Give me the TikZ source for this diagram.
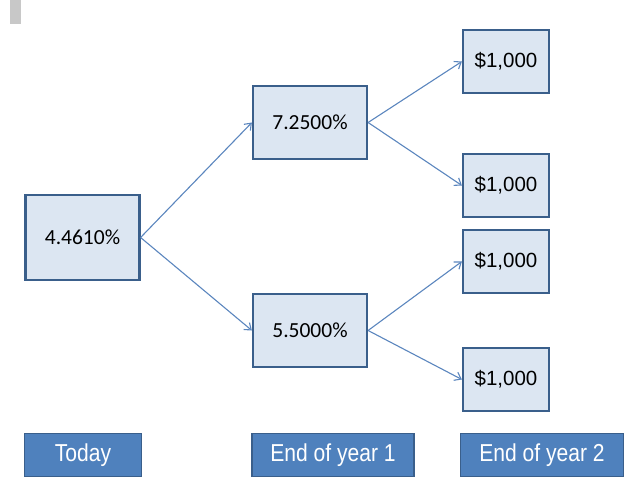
\documentclass[tikz,border=0pt]{standalone}
\usepackage{fontspec}
\setmainfont{Carlito}
\newfontfamily\arialfont{Liberation Sans}
\newfontfamily\narrowfont[FakeStretch=0.86]{Liberation Sans}
\usetikzlibrary{arrows.meta}
\definecolor{boxfill}{HTML}{DCE6F2}
\definecolor{boxline}{HTML}{3A5F8B}
\definecolor{arrowcol}{HTML}{5B86BE}
\definecolor{labfill}{HTML}{4F81BD}
\definecolor{marker}{HTML}{C8C8C8}
\tikzset{
  ratebox/.style={draw=boxline, fill=boxfill, line width=2.2pt, rectangle, inner sep=0pt,
    minimum width=114pt, minimum height=73pt, font=\fontsize{21.5}{24}\selectfont},
  cashbox/.style={draw=boxline, fill=boxfill, line width=2.2pt, rectangle, inner sep=0pt,
    minimum width=86pt, minimum height=63pt, font=\arialfont\fontsize{20.5}{24}\selectfont},
  timebox/.style={draw=boxline, fill=labfill, line width=1.5pt, rectangle, inner sep=0pt,
    minimum height=43pt, text=white, font=\narrowfont\fontsize{24.5}{26}\selectfont},
  branch/.style={draw=arrowcol, line width=1.1pt, -{Straight Barb[length=6pt,width=9pt,line width=1.1pt]}}
}
\begin{document}
\begin{tikzpicture}[x=1pt,y=-1pt]
\useasboundingbox (0,0) rectangle (638,495);
\fill[marker] (10,0) rectangle (21,24);
\node[ratebox, minimum height=85pt] (today) at (82.5,237.5) {4.4610\%};
\node[ratebox] (up) at (310,122.5) {7.2500\%};
\node[ratebox] (down) at (310,330.5) {5.5000\%};
\node[cashbox] (uu) at (506,61.5) {\$1,000};
\node[cashbox] (ud) at (506,185.5) {\$1,000};
\node[cashbox] (du) at (506,261.5) {\$1,000};
\node[cashbox] (dd) at (506,379.5) {\$1,000};
\node[timebox, minimum width=117pt] (t0) at (83,455) {Today};
\node[timebox, minimum width=162pt] (t1) at (333,455) {End of year 1};
\node[timebox, minimum width=163pt] (t2) at (542,455) {End of year 2};
\draw[branch] (today.east) -- (up.west);
\draw[branch] (today.east) -- (down.west);
\draw[branch] (up.east) -- (uu.west);
\draw[branch] (up.east) -- (ud.west);
\draw[branch] (down.east) -- (du.west);
\draw[branch] (down.east) -- (dd.west);
\end{tikzpicture}
\end{document}
